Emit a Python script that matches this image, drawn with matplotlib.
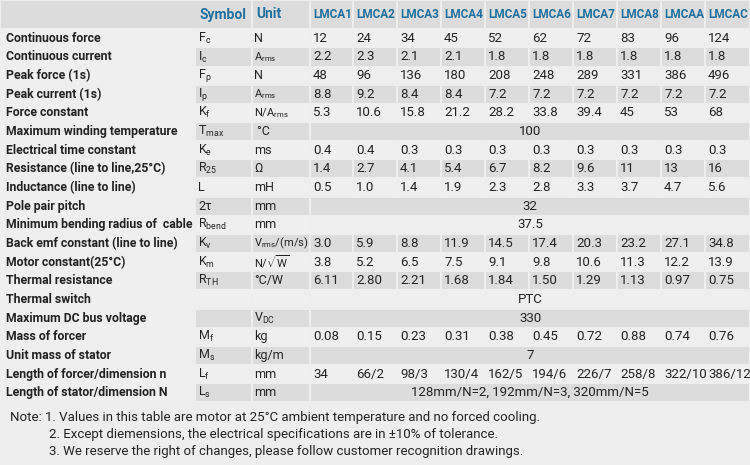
import matplotlib.pyplot as plt
from matplotlib.patches import Rectangle

plt.rcParams["font.family"] = "Roboto"
plt.rcParams["mathtext.fontset"] = "custom"
plt.rcParams["mathtext.rm"] = "Roboto"
plt.rcParams["mathtext.it"] = "Roboto"

# Table data
models = ["LMCA1", "LMCA2", "LMCA3", "LMCA4", "LMCA5", "LMCA6", "LMCA7", "LMCA8", "LMCAA", "LMCAC"]
labels = ["Continuous force", "Continuous current", "Peak force (1s)", "Peak current (1s)",
          "Force constant", "Maximum winding temperature", "Electrical time constant",
          "Resistance (line to line,25°C)", "Inductance (line to line)", "Pole pair pitch",
          "Minimum bending radius of  cable", "Back emf constant (line to line)",
          "Motor constant(25°C)", "Thermal resistance", "Thermal switch",
          "Maximum DC bus voltage", "Mass of forcer", "Unit mass of stator",
          "Length of forcer/dimension n", "Length of stator/dimension N"]
symbols = [r"F$_\mathrm{c}$", r"I$_\mathrm{c}$", r"F$_\mathrm{p}$", r"I$_\mathrm{p}$",
           r"K$_\mathrm{f}$", r"T$_\mathrm{max}$", r"K$_\mathrm{e}$", r"R$_\mathrm{25}$",
           "L", "2τ", r"R$_\mathrm{bend}$", r"K$_\mathrm{v}$", r"K$_\mathrm{m}$",
           r"R$_\mathrm{TH}$", "", "", r"M$_\mathrm{f}$", r"M$_\mathrm{s}$",
           r"L$_\mathrm{f}$", r"L$_\mathrm{s}$"]
units = ["N", r"A$_\mathrm{rms}$", "N", r"A$_\mathrm{rms}$", r"N/A$_\mathrm{rms}$", " °C",
         "ms", "Ω", "mH", "mm", "mm", r"V$_\mathrm{rms}$/(m/s)", r"N/$\sqrt{\mathrm{W}}$",
         "°C/W", "", r"V$_\mathrm{DC}$", "kg", "kg/m", "mm", "mm"]
values = [
    ["12", "24", "34", "45", "52", "62", "72", "83", "96", "124"],
    ["2.2", "2.3", "2.1", "2.1", "1.8", "1.8", "1.8", "1.8", "1.8", "1.8"],
    ["48", "96", "136", "180", "208", "248", "289", "331", "386", "496"],
    ["8.8", "9.2", "8.4", "8.4", "7.2", "7.2", "7.2", "7.2", "7.2", "7.2"],
    ["5.3", "10.6", "15.8", "21.2", "28.2", "33.8", "39.4", "45", "53", "68"],
    "100",
    ["0.4", "0.4", "0.3", "0.3", "0.3", "0.3", "0.3", "0.3", "0.3", "0.3"],
    ["1.4", "2.7", "4.1", "5.4", "6.7", "8.2", "9.6", "11", "13", "16"],
    ["0.5", "1.0", "1.4", "1.9", "2.3", "2.8", "3.3", "3.7", "4.7", "5.6"],
    "32",
    "37.5",
    ["3.0", "5.9", "8.8", "11.9", "14.5", "17.4", "20.3", "23.2", "27.1", "34.8"],
    ["3.8", "5.2", "6.5", "7.5", "9.1", "9.8", "10.6", "11.3", "12.2", "13.9"],
    ["6.11", "2.80", "2.21", "1.68", "1.84", "1.50", "1.29", "1.13", "0.97", "0.75"],
    "PTC",
    "330",
    ["0.08", "0.15", "0.23", "0.31", "0.38", "0.45", "0.72", "0.88", "0.74", "0.76"],
    "7",
    ["34", "66/2", "98/3", "130/4", "162/5", "194/6", "226/7", "258/8", "322/10", "386/12"],
    "128mm/N=2, 192mm/N=3, 320mm/N=5",
]
notes = ["Note: 1. Values in this table are motor at 25°C ambient temperature and no forced cooling.",
         "2. Except diemensions, the electrical specifications are in ±10% of tolerance.",
         "3. We reserve the right of changes, please follow customer recognition drawings."]

blue = "#1f6f9f"
light = "#efefef"
dark = "#dcdcdc"
txt = "#222222"

fig = plt.figure(figsize=(7.5, 4.65), dpi=100)
fig.patch.set_facecolor("#eeeeee")
ax = fig.add_axes([0, 0, 1, 1])
ax.set_xlim(0, 750)
ax.set_ylim(465, 0)
ax.axis("off")

col_x = [0, 195, 252, 310, 353, 397, 441, 485, 529, 573, 617, 661, 705, 750]
header_h = 29
row_h = 18.65
gap = 1.5


def cell(x0, x1, y0, y1, color):
    ax.add_patch(Rectangle((x0 + gap / 2, y0 + gap / 2), x1 - x0 - gap, y1 - y0 - gap,
                           facecolor=color, edgecolor="none"))


# header
cell(col_x[0], col_x[2], 0, header_h, dark)
cell(col_x[2], col_x[3], 0, header_h, dark)
ax.text(col_x[1] + 4, header_h / 2, "Symbol", color=blue, fontsize=10, fontweight="bold", va="center")
ax.text(col_x[2] + 4, header_h / 2, "Unit", color=blue, fontsize=10, fontweight="bold", va="center")
for j, m in enumerate(models):
    cell(col_x[3 + j], col_x[4 + j], 0, header_h, dark)
    ax.text(col_x[3 + j] + 3, header_h / 2, m, color=blue, fontsize=8.5,
            fontweight="bold", va="center")

# body
for i in range(len(labels)):
    y0 = header_h + i * row_h
    y1 = y0 + row_h
    yc = (y0 + y1) / 2
    shade = light if i % 2 == 0 else dark
    cell(col_x[0], col_x[1], y0, y1, light)
    cell(col_x[1], col_x[2], y0, y1, shade)
    cell(col_x[2], col_x[3], y0, y1, shade)
    ax.text(6, yc, labels[i], fontsize=8.8, fontweight="bold", color=txt, va="center")
    ax.text(col_x[1] + 3, yc, symbols[i], fontsize=9, color=txt, va="center")
    ufs = 8 if len(units[i]) > 15 else 9
    ax.text(col_x[2] + 2, yc, units[i], fontsize=ufs, color=txt, va="center")
    v = values[i]
    if isinstance(v, str):
        cell(col_x[3], col_x[-1], y0, y1, shade)
        ax.text((col_x[3] + col_x[-1]) / 2, yc, v, fontsize=9.5, color=txt,
                va="center", ha="center")
    else:
        for j, s in enumerate(v):
            cell(col_x[3 + j], col_x[4 + j], y0, y1, shade)
            ax.text(col_x[3 + j] + 3, yc, s, fontsize=9.5, color=txt, va="center")

# notes
ax.text(10, 417, notes[0], fontsize=9.5, color=txt, va="center")
ax.text(49, 434, notes[1], fontsize=9.5, color=txt, va="center")
ax.text(49, 451, notes[2], fontsize=9.5, color=txt, va="center")

fig.savefig("out.png", dpi=100, facecolor=fig.get_facecolor())
